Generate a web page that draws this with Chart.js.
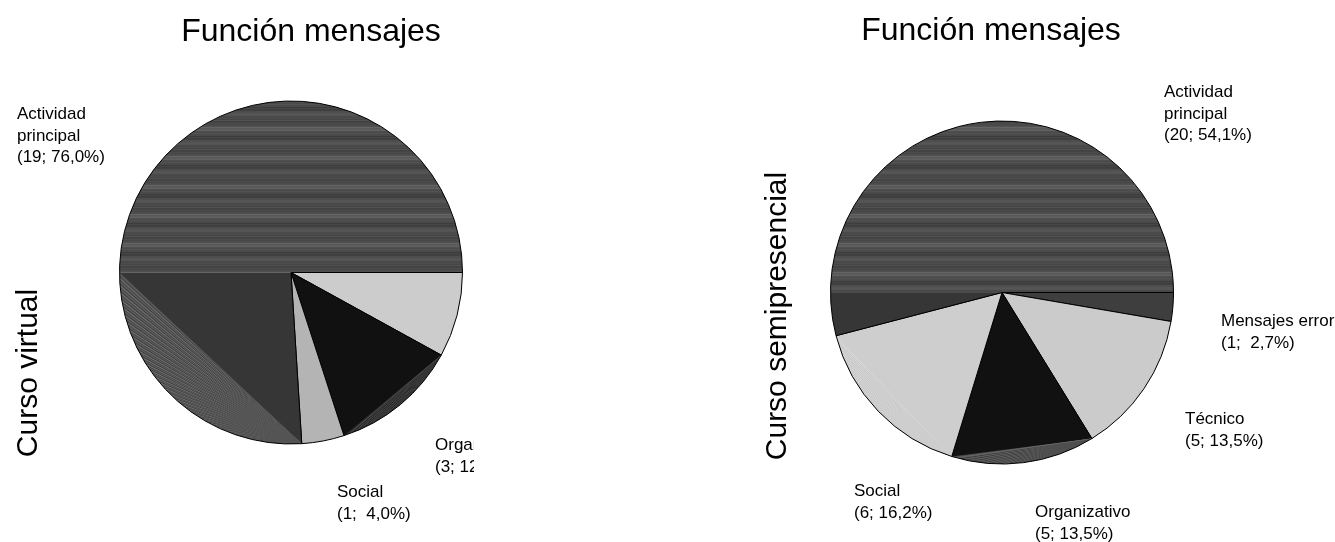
<!DOCTYPE html>
<html><head><meta charset="utf-8">
<script src="https://cdn.jsdelivr.net/npm/chart.js@4.4.1/dist/chart.umd.min.js"></script>
<style>
html,body{margin:0;padding:0;background:#fff;width:1335px;height:542px;overflow:hidden;}
#c1{position:absolute;left:0;top:0;}
#c2{position:absolute;left:474px;top:0;}
</style></head><body>
<canvas id="c1" width="474" height="542"></canvas>
<canvas id="c2" width="861" height="542"></canvas>
<script>
// ---------- data ----------
const chartTitle = 'Función mensajes';
const virtualGroup = 'Curso virtual';
const virtualCategories = ['Técnico', 'Organizativo', 'Social', ['Actividad', 'principal']];
const virtualValues = [2, 3, 1, 19];
const semiGroup = 'Curso semipresencial';
const semiCategories = ['Mensajes error', 'Técnico', 'Organizativo', 'Social', ['Actividad', 'principal']];
const semiValues = [1, 5, 5, 6, 20];

// ---------- style ----------
const FONT = '"Liberation Sans", Arial, Helvetica, sans-serif';
const virtualFills = [
  { base: '#cccccc' },
  { base: '#111111', seg: '#2a2a2a', lines: ['#4e4e4e', '#1e1e1e', '#3a3a3a'] },
  { base: '#b4b4b4' },
  { base: 'STRIPES', seg: '#555555', lines: ['#747474', '#3e3e3e', '#5e5e5e', '#4a4a4a'] }
];
const semiFills = [
  { base: '#3e3e3e' },
  { base: '#cbcbcb' },
  { base: '#111111', seg: '#4a4a4a', lines: ['#686868', '#333333', '#575757'] },
  { base: '#cecece', seg: '#d2d2d2', lines: ['#c4c4c4', '#d8d8d8'] },
  { base: 'STRIPES' }
];
const virtualLabelOffsets = [[190, 40], [144, 177.5], [46, 224.5], [-274, -153.5]];
const semiLabelOffsets = [[219, 33.5], [183, 131.5], [33, 224.5], [-148, 203.5], [162, -195.5]];
const stripeGrays = [0x4a,0x4e,0x46,0x52,0x5c,0x4c,0x42,0x48,0x54,0x3e,0x4a,0x60,0x50,0x44,0x4c,0x56,0x40,0x49,0x4f,0x64,0x4b,0x45,0x53,0x4d,0x3c,0x4a,0x58,0x47,0x51];
const PIE_RADIUS = 171.5;

Chart.defaults.font.family = FONT;

function sliceFill(chart, i, fills) {
  const spec = fills[i];
  const ca = chart.chartArea;
  if (!ca) return spec.base === 'STRIPES' ? '#484848' : spec.base;
  chart.$fills = chart.$fills || {};
  if (chart.$fills[i]) return chart.$fills[i];
  if (spec.base !== 'STRIPES' && !spec.seg) return spec.base;
  const cx = (ca.left + ca.right) / 2, cy = (ca.top + ca.bottom) / 2;
  const ds = chart.data.datasets[0];
  const total = ds.data.reduce((a, b) => a + b, 0);
  let before = 0;
  for (let k = 0; k < i; k++) before += ds.data[k];
  const a0 = before / total * 2 * Math.PI;
  const a1 = (before + ds.data[i]) / total * 2 * Math.PI;
  const c = document.createElement('canvas');
  c.width = chart.width; c.height = chart.height;
  const g = c.getContext('2d');
  if (spec.base === 'STRIPES') {
    for (let y = 0; y < c.height; y++) {
      if (y < cy) {
        const v = stripeGrays[(y * 7) % stripeGrays.length];
        g.fillStyle = `rgb(${v},${v},${v})`;
      } else {
        g.fillStyle = '#363636';
      }
      g.fillRect(0, y, c.width, 1);
    }
  } else {
    g.fillStyle = spec.base;
    g.fillRect(0, 0, c.width, c.height);
  }
  const segEnd = Math.min(a1, Math.PI);
  if (spec.seg && segEnd > a0) {
    const R = PIE_RADIUS + 2;
    const px = cx + PIE_RADIUS * Math.cos(a0), py = cy + PIE_RADIUS * Math.sin(a0);
    const ex = cx + PIE_RADIUS * Math.cos(segEnd), ey = cy + PIE_RADIUS * Math.sin(segEnd);
    g.save();
    g.beginPath();
    g.moveTo(px, py);
    g.arc(cx, cy, R, a0, segEnd);
    g.lineTo(ex, ey);
    g.closePath();
    g.fillStyle = spec.seg;
    g.fill();
    g.clip();
    g.lineWidth = 1;
    const steps = Math.max(8, Math.round((segEnd - a0) * 180 / Math.PI * 1.6));
    for (let s = 0; s <= steps; s++) {
      const a = a0 + (segEnd - a0) * s / steps;
      g.strokeStyle = spec.lines[s % spec.lines.length];
      g.beginPath();
      g.moveTo(px, py);
      g.lineTo(cx + R * Math.cos(a), cy + R * Math.sin(a));
      g.stroke();
    }
    g.restore();
  }
  const p = chart.ctx.createPattern(c, 'no-repeat');
  chart.$fills[i] = p;
  return p;
}

function fmtPct(v, total) {
  return (v / total * 100).toFixed(1).replace('.', ',').padStart(4, ' ');
}

const textPlugin = {
  id: 'texts',
  afterDraw(chart, args, o) {
    const ctx = chart.ctx;
    const meta = chart.getDatasetMeta(0);
    const cx = meta.data[0].x, cy = meta.data[0].y;
    const ds = chart.data.datasets[0];
    const total = ds.data.reduce((a, b) => a + b, 0);
    ctx.save();
    ctx.fillStyle = '#000';
    ctx.textBaseline = 'alphabetic';
    ctx.font = '32px ' + FONT;
    ctx.textAlign = 'center';
    ctx.fillText(o.title, cx + o.titleDx, o.titleY);
    ctx.save();
    ctx.translate(o.groupX, o.groupY);
    ctx.rotate(-Math.PI / 2);
    ctx.font = '30px ' + FONT;
    ctx.textAlign = 'center';
    ctx.fillText(o.group, 0, 0);
    ctx.restore();
    ctx.font = '17px ' + FONT;
    ctx.textAlign = 'left';
    chart.data.labels.forEach((lab, i) => {
      const lines = (Array.isArray(lab) ? lab.slice() : [lab]);
      lines.push('(' + ds.data[i] + '; ' + fmtPct(ds.data[i], total) + '%)');
      const [dx, dy] = o.offsets[i];
      lines.forEach((t, k) => ctx.fillText(t, cx + dx, cy + dy + k * 21.5));
    });
    ctx.restore();
  }
};

function makePie(id, labels, values, fills, padding, textOpts) {
  const chart = new Chart(document.getElementById(id), {
    type: 'pie',
    data: {
      labels: labels,
      datasets: [{
        data: values,
        backgroundColor: (c) => sliceFill(c.chart, c.dataIndex, fills),
        borderColor: '#000000',
        borderWidth: 1,
        radius: PIE_RADIUS
      }]
    },
    options: {
      responsive: false,
      animation: false,
      devicePixelRatio: 1,
      events: [],
      rotation: 90,
      layout: { padding: padding },
      plugins: { legend: { display: false }, tooltip: { enabled: false }, title: { display: false }, texts: textOpts }
    },
    plugins: [textPlugin]
  });
  chart.update('none');
  return chart;
}

makePie('c1', virtualCategories, virtualValues, virtualFills,
  { left: 120, right: 12, top: 100, bottom: 97 },
  { title: chartTitle, titleDx: 20, titleY: 41, group: virtualGroup, groupX: 37, groupY: 373, offsets: virtualLabelOffsets });

makePie('c2', semiCategories, semiValues, semiFills,
  { left: 350, right: 155, top: 120, bottom: 77 },
  { title: chartTitle, titleDx: -11, titleY: 40, group: semiGroup, groupX: 312, groupY: 316, offsets: semiLabelOffsets });
</script>
</body></html>
